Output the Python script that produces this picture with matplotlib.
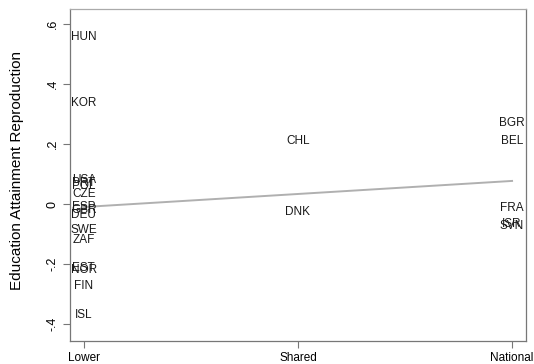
import numpy as np
import matplotlib
matplotlib.use("Agg")
import matplotlib.pyplot as plt

plt.rcParams['font.family'] = ['Liberation Sans', 'DejaVu Sans']

categories = ["Lower", "Shared", "National"]

lower_countries = ["HUN", "KOR", "USA", "PRT", "POL", "CZE", "ESP", "GBR", "DEU",
                   "SWE", "ZAF", "EST", "NOR", "FIN", "ISL"]
lower_values = [0.557, 0.337, 0.080, 0.070, 0.060, 0.035, -0.010, -0.020, -0.035,
                -0.087, -0.120, -0.212, -0.220, -0.273, -0.370]

shared_countries = ["CHL", "DNK"]
shared_values = [0.210, -0.027]

national_countries = ["BGR", "BEL", "FRA", "ISR", "SVN"]
national_values = [0.270, 0.210, -0.013, -0.067, -0.073]

yticks = [-0.4, -0.2, 0, 0.2, 0.4, 0.6]
ytick_labels = ["-.4", "-.2", "0", ".2", ".4", ".6"]

fig = plt.figure(figsize=(5.34, 3.64), dpi=100)
ax = fig.add_axes([0.131, 0.063, 0.854, 0.912])

xs, ys = [], []
groups = [(0, lower_countries, lower_values),
          (1, shared_countries, shared_values),
          (2, national_countries, national_values)]
for xpos, names, vals in groups:
    for n, v in zip(names, vals):
        ax.text(xpos, v, n, ha='center', va='center', fontsize=8.5, color='#1a1a1a')
        xs.append(xpos)
        ys.append(v)

slope, intercept = np.polyfit(xs, ys, 1)
xl = np.array([0, 2])
ax.plot(xl, intercept + slope * xl, color='#b0b0b0', lw=1.4)

ax.set_xlim(-0.065, 2.065)
ax.set_ylim(-0.457, 0.65)
ax.set_xticks([0, 1, 2])
ax.set_xticklabels(categories, fontsize=8.5)
ax.set_yticks(yticks)
ax.set_yticklabels(ytick_labels, fontsize=9, rotation=90, va='center')
ax.set_ylabel("Education Attainment Reproduction", fontsize=11)
ax.yaxis.set_label_coords(-0.10, 0.515)
ax.tick_params(axis='both', direction='out', length=5, width=0.8, color='#777777', pad=3)
for s in ax.spines.values():
    s.set_color('#777777')
    s.set_linewidth(0.9)
ax.spines['top'].set_color('#aaaaaa')

fig.savefig("out.png", dpi=100)
